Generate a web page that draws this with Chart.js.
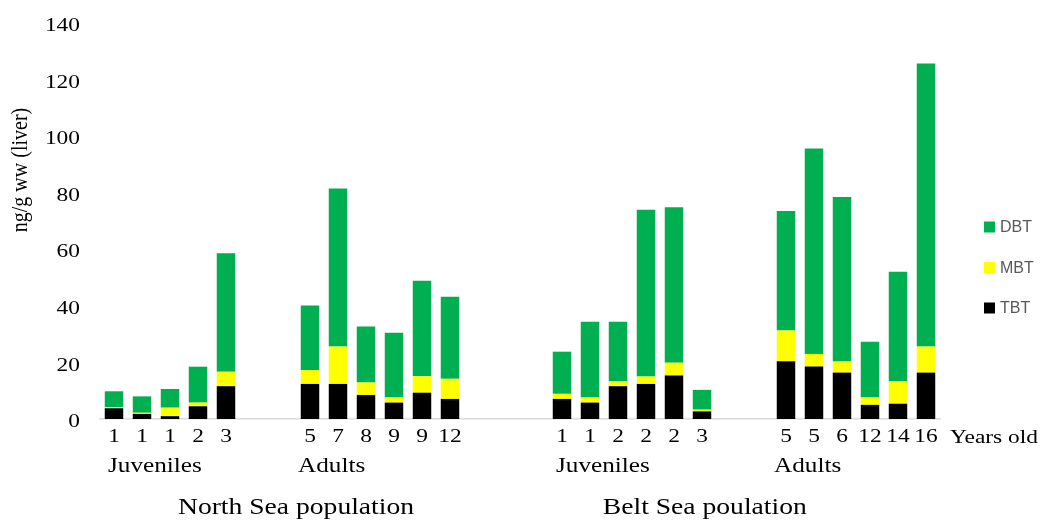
<!DOCTYPE html>
<html>
<head>
<meta charset="utf-8">
<script src="https://cdn.jsdelivr.net/npm/chart.js@4"></script>
<style>
  body { margin: 0; background: #fff; }
  #wrap { width: 1040px; height: 523px; }
</style>
</head>
<body>
<div id="wrap"><canvas id="myChart" width="1040" height="523"></canvas></div>
<script>
// ages under each bar ('' = spacer slot between groups)
const ages = ['1', '1', '1', '2', '3', '', '', '5', '7', '8', '9', '9', '12', '', '', '',
    '1', '1', '2', '2', '2', '3', '', '', '5', '5', '6', '12', '14', '16'];

// values, ng/g ww
const tbt = [3.8, 1.8, 1.0, 4.5, 11.6, null, null, 12.4, 12.4, 8.5, 5.8, 9.3, 7.1, null, null, null,
    7.1, 5.8, 11.6, 12.4, 15.4, 2.7, null, null, 20.4, 18.6, 16.4, 5.0, 5.4, 16.4];
const mbt = [0.4, 0.4, 3.0, 1.3, 5.1, null, null, 4.9, 13.2, 4.4, 1.8, 5.8, 7.1, null, null, null,
    1.8, 1.8, 1.7, 2.6, 4.5, 0.6, null, null, 10.9, 4.4, 3.9, 2.6, 7.9, 9.2];
const dbt = [5.6, 5.8, 6.6, 12.7, 41.9, null, null, 22.8, 55.9, 19.8, 22.9, 33.8, 29.0, null, null, null,
    14.9, 26.8, 21.1, 59.0, 55.0, 7.0, null, null, 42.2, 72.6, 58.2, 19.7, 38.8, 100.1];

// second and third row of the x axis (index = category slot)
const groupLabels = [
    { text: 'Juveniles', at: 0 },
    { text: 'Adults', at: 7 },
    { text: 'Juveniles', at: 16 },
    { text: 'Adults', at: 24 }
];
const populationLabels = [
    { text: 'North Sea population', at: 6.5 },
    { text: 'Belt Sea poulation', at: 21.1 }
];

const serif = '"Liberation Serif", "Times New Roman", serif';
const stretch = 1.2; // the original's text is a bit wide

// draws text stretched sideways like in the original picture
function wideText(ctx, text, x, y, size, align) {
    ctx.save();
    ctx.translate(x, y);
    ctx.scale(stretch, 1);
    ctx.font = size + 'px ' + serif;
    ctx.textAlign = align;
    ctx.textBaseline = 'middle';
    ctx.fillText(text, 0, 0);
    ctx.restore();
}

// tick labels, extra texts and the legend, drawn after the chart
const extras = {
    id: 'extras',
    afterDraw(chart) {
        const ctx = chart.ctx;
        const x = chart.scales.x;
        const y = chart.scales.y;
        ctx.save();
        ctx.fillStyle = '#000';

        // y axis title
        ctx.save();
        ctx.translate(21, 170);
        ctx.rotate(-Math.PI / 2);
        ctx.scale(1, stretch);
        ctx.font = '20px ' + serif;
        ctx.textAlign = 'center';
        ctx.textBaseline = 'middle';
        ctx.fillText('ng/g ww (liver)', 0, 0);
        ctx.restore();

        // y ticks
        y.ticks.forEach(t => {
            wideText(ctx, String(t.value), 80, y.getPixelForValue(t.value) + 3, 19.5, 'right');
        });

        // x ticks (ages)
        ages.forEach((a, i) => {
            if (a) wideText(ctx, a, x.getPixelForTick(i), 437, 19.5, 'center');
        });
        wideText(ctx, 'Years old', 950, 438, 19.5, 'left');

        groupLabels.forEach(g => {
            const off = g.text === 'Adults' ? -12 : -6;
            wideText(ctx, g.text, x.getPixelForValue(g.at) + off, 466, 21, 'left');
        });

        populationLabels.forEach(p => {
            wideText(ctx, p.text, x.getPixelForValue(p.at), 508, 23, 'center');
        });

        // legend, DBT on top
        const items = chart.data.datasets.slice().reverse();
        ctx.font = '16px "Liberation Sans", Arial, sans-serif';
        ctx.textAlign = 'left';
        ctx.textBaseline = 'middle';
        items.forEach((ds, i) => {
            const cy = 227 + i * 40.5;
            ctx.fillStyle = ds.backgroundColor;
            ctx.fillRect(984, cy - 5.5, 11, 11);
            ctx.fillStyle = '#595959';
            ctx.fillText(ds.label, 1000, cy + 1);
        });
        ctx.restore();
    }
};

function main() {
    const chartData = {
        labels: ages,
        datasets: [
            { label: 'TBT', data: tbt, backgroundColor: '#000000' },
            { label: 'MBT', data: mbt, backgroundColor: '#FFFF00' },
            { label: 'DBT', data: dbt, backgroundColor: '#00B050' }
        ]
    };

    const config = {
        type: 'bar',
        data: chartData,
        options: {
            responsive: false,
            animation: false,
            layout: { padding: { top: 23, right: 100, left: 0, bottom: 0 } },
            datasets: {
                bar: { categoryPercentage: 1, barPercentage: 0.66 }
            },
            plugins: {
                legend: { display: false },
                tooltip: { enabled: false }
            },
            scales: {
                x: {
                    stacked: true,
                    grid: { display: false, drawTicks: false },
                    border: { display: true, color: '#d9d9d9', width: 1.5 },
                    ticks: { display: false, autoSkip: false },
                    afterFit(scale) { scale.height = 104; }
                },
                y: {
                    stacked: true,
                    min: 0,
                    max: 140,
                    grid: { display: false, drawTicks: false },
                    border: { display: false },
                    ticks: { display: false, stepSize: 20 },
                    afterFit(scale) { scale.width = 100; }
                }
            }
        },
        plugins: [extras]
    };

    new Chart(document.getElementById('myChart'), config);
}

document.addEventListener('DOMContentLoaded', function () {
    main();
});
</script>
</body>
</html>
